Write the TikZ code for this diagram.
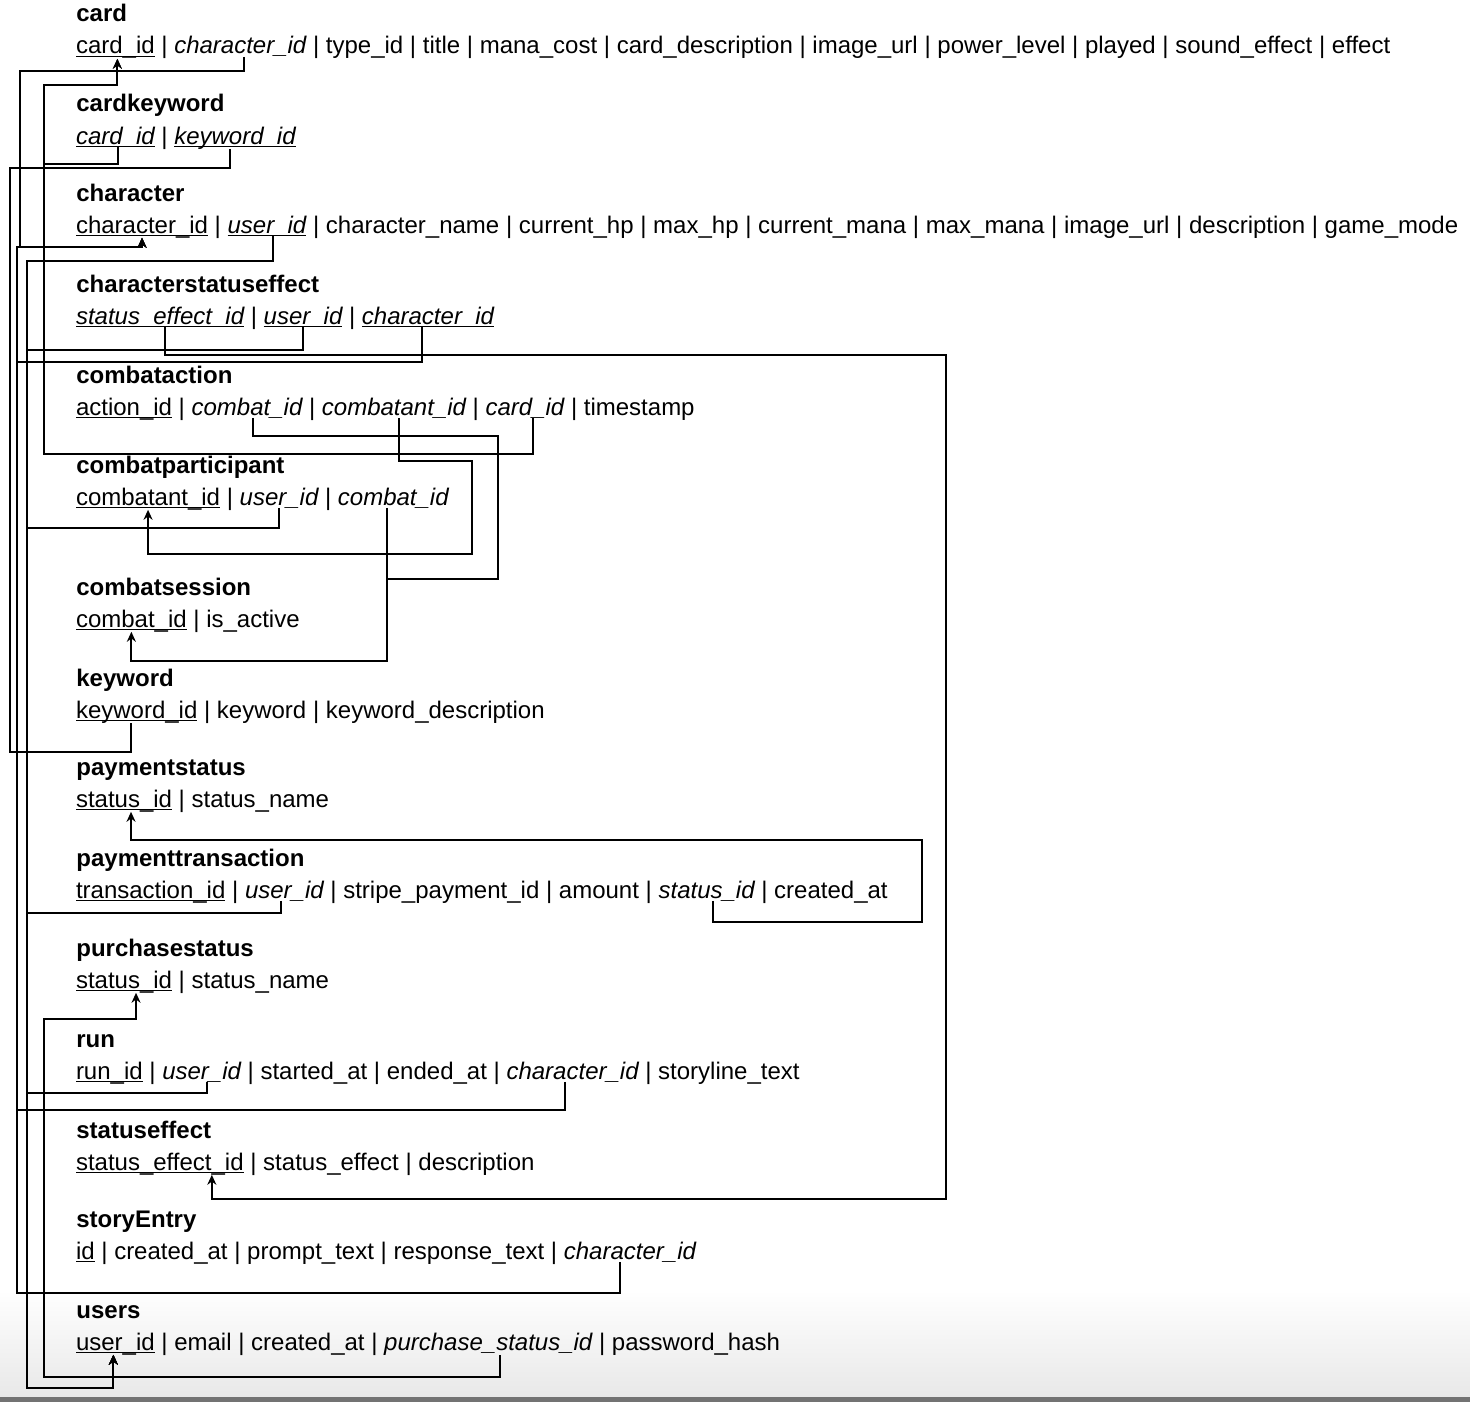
\documentclass[tikz,border=0pt]{standalone}
\usepackage{fontspec}
\setmainfont{Liberation Sans}
\usetikzlibrary{arrows.meta}

\tikzset{
  tablename/.style={anchor=base west, inner sep=0pt, font=\fontsize{12}{14}\selectfont\bfseries},
  fld/.style={anchor=base west, inner sep=0pt, outer sep=0pt, font=\fontsize{12}{14}\selectfont},
  ul/.style={append after command={([yshift=-1.4pt]\tikzlastnode.base west) edge[draw, line width=0.6pt] ([yshift=-1.4pt]\tikzlastnode.base east)}},
  pk/.style={fld, ul},
  fk/.style={fld, font=\fontsize{12}{14}\selectfont\itshape},
  pkfk/.style={fk, ul},
  link/.style={line width=1pt, -{Stealth[length=5pt,width=4.5pt]}},
  nolink/.style={line width=1pt},
}

% one line of fields under a table name
\newcommand\fields[2]{%
  \foreach \txt/\kind [count=\i] in {#2} {%
    \ifnum\i=1
      \node[\kind] (#1-1) at ([yshift=-16pt]#1.base west) {\txt};
    \else
      \pgfmathtruncatemacro\prev{\i-1}
      \node[fld] (#1-bar\i) at (#1-\prev.base east) {\ |\ \mbox{}};
      \node[\kind] (#1-\i) at (#1-bar\i.base east) {\txt};
    \fi
  }}

\begin{document}
\begin{tikzpicture}[x=0.5pt, y=-0.5pt]

            \useasboundingbox (0,0) rectangle (1470,1402);
            \shade[top color=white, bottom color=black!9] (0,1290) rectangle (1470,1397);
            \fill[black!55] (0,1397) rectangle (1470,1402);

            \path   (76,22)   node (card) [tablename] {card}
                    (76,112)  node (cardkeyword) [tablename] {cardkeyword}
                    (76,201)  node (character) [tablename] {character}
                    (76,292)  node (characterstatuseffect) [tablename] {characterstatuseffect}
                    (76,383)  node (combataction) [tablename] {combataction}
                    (76,473)  node (combatparticipant) [tablename] {combatparticipant}
                    (76,595)  node (combatsession) [tablename] {combatsession}
                    (76,686)  node (keyword) [tablename] {keyword}
                    (76,775)  node (paymentstatus) [tablename] {paymentstatus}
                    (76,866)  node (paymenttransaction) [tablename] {paymenttransaction}
                    (76,956)  node (purchasestatus) [tablename] {purchasestatus}
                    (76,1047) node (run) [tablename] {run}
                    (76,1138) node (statuseffect) [tablename] {statuseffect}
                    (76,1227) node (storyEntry) [tablename] {storyEntry}
                    (76,1318) node (users) [tablename] {users};

            \fields{card}{card\_id/pk, character\_id/fk, type\_id/fld, title/fld, mana\_cost/fld, card\_description/fld, image\_url/fld, power\_level/fld, played/fld, sound\_effect/fld, effect/fld}
            \fields{cardkeyword}{card\_id/pkfk, keyword\_id/pkfk}
            \fields{character}{character\_id/pk, user\_id/pkfk, character\_name/fld, current\_hp/fld, max\_hp/fld, current\_mana/fld, max\_mana/fld, image\_url/fld, description/fld, game\_mode/fld}
            \fields{characterstatuseffect}{status\_effect\_id/pkfk, user\_id/pkfk, character\_id/pkfk}
            \fields{combataction}{action\_id/pk, combat\_id/fk, combatant\_id/fk, card\_id/fk, timestamp/fld}
            \fields{combatparticipant}{combatant\_id/pk, user\_id/fk, combat\_id/fk}
            \fields{combatsession}{combat\_id/pk, is\_active/fld}
            \fields{keyword}{keyword\_id/pk, keyword/fld, keyword\_description/fld}
            \fields{paymentstatus}{status\_id/pk, status\_name/fld}
            \fields{paymenttransaction}{transaction\_id/pk, user\_id/fk, stripe\_payment\_id/fld, amount/fld, status\_id/fk, created\_at/fld}
            \fields{purchasestatus}{status\_id/pk, status\_name/fld}
            \fields{run}{run\_id/pk, user\_id/fk, started\_at/fld, ended\_at/fld, character\_id/fk, storyline\_text/fld}
            \fields{statuseffect}{status\_effect\_id/pk, status\_effect/fld, description/fld}
            \fields{storyEntry}{id/pk, created\_at/fld, prompt\_text/fld, response\_text/fld, character\_id/fk}
            \fields{users}{user\_id/pk, email/fld, created\_at/fld, purchase\_status\_id/fk, password\_hash/fld}

            % character_id
            \draw[link] ([xshift=2pt]card-2.south) |- (20,71) -- (20,247) -| (character-1.south);
            \draw[link] ([xshift=-3pt]characterstatuseffect-3.south) |- (17,362) -- (17,247) -| (character-1.south);
            \draw[link] ([xshift=-4pt]run-5.south) |- (17,1110) -- (17,247) -| (character-1.south);
            \draw[link] ([xshift=-5pt]storyEntry-5.south) |- (17,1293) -- (17,247) -| (character-1.south);

            % card_id
            \draw[link] ([xshift=1.5pt]cardkeyword-1.south) |- (44,164) -- (44,85) -| ([xshift=1pt]card-1.south);
            \draw[link] ([xshift=4pt]combataction-4.south) |- (44,454) -- (44,85) -| ([xshift=1pt]card-1.south);

            % keyword_id
            \draw[nolink] ([xshift=-2.5pt]cardkeyword-2.south) |- (10,168) -- (10,752) -| ([xshift=-3pt]keyword-1.south);

            % user_id
            \draw[link] ([xshift=3pt]character-2.south) |- (27,261) -- (27,1388) -| ([xshift=-1pt]users-1.south);
            \draw[link] (characterstatuseffect-2.south) |- (27,350) -- (27,1388) -| ([xshift=-1pt]users-1.south);
            \draw[link] (combatparticipant-2.south) |- (27,528) -- (27,1388) -| ([xshift=-1pt]users-1.south);
            \draw[link] ([xshift=-1.5pt]paymenttransaction-2.south) |- (27,913) -- (27,1388) -| ([xshift=-1pt]users-1.south);
            \draw[link] ([xshift=2.5pt]run-2.south) |- (27,1093) -- (27,1388) -| ([xshift=-1pt]users-1.south);

            % status_effect_id
            \draw[link] ([xshift=2.5pt]characterstatuseffect-1.south) |- (946,355) -- (946,1199) -| ([xshift=26pt]statuseffect-1.south);

            % combat_id, combatant_id
            \coordinate (cpcombat) at ([xshift=-3pt]combatparticipant-3.south);
            \draw[link] (cpcombat) |- (300,661) -| (combatsession-1.south);
            \draw[nolink] ([xshift=3pt]combataction-2.south) |- (498,436) -- (498,579) -| (cpcombat);
            \draw[link] ([xshift=2.5pt]combataction-3.south) |- (472,461) -- (472,554) -| (combatparticipant-1.south);

            % status_id
            \draw[link] ([xshift=3pt]paymenttransaction-5.south) |- (922,922) -- (922,840) -| ([xshift=3.5pt]paymentstatus-1.south);
            \draw[link] ([xshift=6pt]users-4.south) |- (44,1377) -- (44,1019) -| ([xshift=6pt]purchasestatus-1.south);

        \end{tikzpicture}
\end{document}
